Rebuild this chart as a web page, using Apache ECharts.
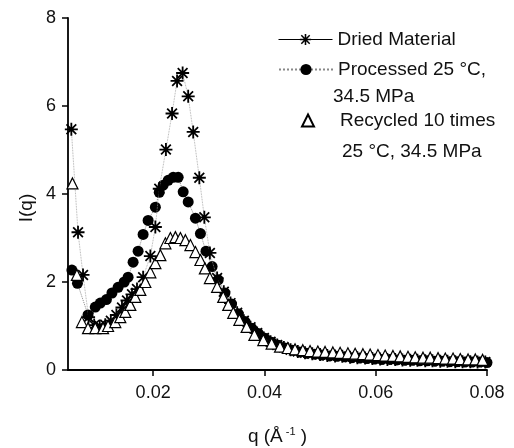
<!DOCTYPE html>
<html>
<head>
<meta charset="utf-8">
<script src="https://cdn.jsdelivr.net/npm/echarts@6/dist/echarts.min.js"></script>
<style>
  html, body { margin: 0; padding: 0; background: #fff; }
  #chart { width: 514px; height: 448px; }
</style>
</head>
<body>
<div id="chart"></div>
<script>
// values, q in 1/Angstrom
var qDried = [0.0053, 0.0065, 0.0074, 0.0084, 0.0094, 0.0104, 0.0114, 0.0124, 0.0134, 0.0144, 0.0153, 0.0162, 0.0171, 0.0182, 0.0195, 0.0204,
    0.0211, 0.0223, 0.0234, 0.0243, 0.0253, 0.0263, 0.0272, 0.0283, 0.0292, 0.0302, 0.0315, 0.0327, 0.0339, 0.0351, 0.0363, 0.0375,
    0.0387, 0.0399, 0.0411, 0.0423, 0.0435, 0.0447, 0.0460, 0.0473, 0.0486, 0.0500, 0.0513, 0.0527, 0.0540, 0.0554, 0.0567, 0.0581,
    0.0594, 0.0608, 0.0621, 0.0635, 0.0648, 0.0662, 0.0675, 0.0689, 0.0702, 0.0716, 0.0729, 0.0743, 0.0756, 0.0770, 0.0783, 0.0797];
var iDried = [5.47, 3.13, 2.16, 1.20, 1.02, 1.00, 1.03, 1.12, 1.25, 1.42, 1.58, 1.72, 1.84, 2.11, 2.59, 3.25,
    4.12, 5.01, 5.83, 6.57, 6.75, 6.22, 5.41, 4.37, 3.47, 2.66, 2.09, 1.78, 1.52, 1.30, 1.12, 0.97,
    0.84, 0.73, 0.64, 0.57, 0.51, 0.46, 0.42, 0.39, 0.37, 0.35, 0.33, 0.32, 0.31, 0.29, 0.28, 0.27,
    0.26, 0.25, 0.24, 0.24, 0.23, 0.22, 0.22, 0.21, 0.21, 0.20, 0.20, 0.19, 0.19, 0.19, 0.18, 0.18];

var qProc = [0.0054, 0.0064, 0.0083, 0.0096, 0.0105, 0.0116, 0.0126, 0.0137, 0.0148, 0.0155, 0.0164, 0.0173, 0.0182, 0.0191, 0.0204, 0.0211,
    0.0218, 0.0227, 0.0236, 0.0245, 0.0254, 0.0263, 0.0276, 0.0285, 0.0295, 0.0306, 0.0317, 0.0329, 0.0341, 0.0353, 0.0365, 0.0377,
    0.0389, 0.0401, 0.0413, 0.0425, 0.0437, 0.0450, 0.0463, 0.0476, 0.0490, 0.0503, 0.0517, 0.0530, 0.0544, 0.0557, 0.0571, 0.0584,
    0.0598, 0.0611, 0.0625, 0.0638, 0.0652, 0.0665, 0.0679, 0.0692, 0.0706, 0.0719, 0.0733, 0.0746, 0.0760, 0.0773, 0.0787, 0.0800];
var iProc = [2.27, 1.97, 1.25, 1.43, 1.52, 1.60, 1.75, 1.88, 2.00, 2.11, 2.45, 2.70, 3.08, 3.40, 3.70, 4.04,
    4.20, 4.31, 4.38, 4.38, 4.05, 3.82, 3.45, 3.10, 2.70, 2.35, 2.05, 1.75, 1.50, 1.28, 1.10, 0.95,
    0.83, 0.72, 0.63, 0.56, 0.50, 0.45, 0.41, 0.38, 0.36, 0.34, 0.32, 0.31, 0.30, 0.28, 0.27, 0.26,
    0.25, 0.24, 0.24, 0.23, 0.22, 0.22, 0.21, 0.21, 0.20, 0.20, 0.19, 0.19, 0.18, 0.18, 0.18, 0.17];

var qRecy = [0.0055, 0.0063, 0.0072, 0.0083, 0.0096, 0.0110, 0.0119, 0.0132, 0.0141, 0.0150, 0.0159, 0.0168, 0.0177, 0.0186, 0.0195, 0.0204,
    0.0213, 0.0222, 0.0231, 0.0240, 0.0249, 0.0258, 0.0267, 0.0276, 0.0285, 0.0293, 0.0302, 0.0315, 0.0326, 0.0335, 0.0344, 0.0355,
    0.0368, 0.0382, 0.0398, 0.0413, 0.0428, 0.0442, 0.0455, 0.0469, 0.0482, 0.0496, 0.0509, 0.0523, 0.0536, 0.0550, 0.0563, 0.0577,
    0.0590, 0.0604, 0.0617, 0.0631, 0.0644, 0.0658, 0.0671, 0.0685, 0.0698, 0.0712, 0.0725, 0.0739, 0.0752, 0.0766, 0.0779, 0.0792];
var iRecy = [4.24, 2.16, 1.09, 0.95, 0.95, 0.95, 1.00, 1.09, 1.20, 1.32, 1.48, 1.66, 1.82, 2.00, 2.22, 2.43,
    2.61, 2.88, 3.00, 3.02, 3.00, 2.95, 2.84, 2.68, 2.50, 2.31, 2.09, 1.89, 1.66, 1.48, 1.30, 1.14,
    0.98, 0.80, 0.68, 0.60, 0.53, 0.50, 0.47, 0.45, 0.43, 0.42, 0.41, 0.40, 0.39, 0.38, 0.37, 0.36,
    0.35, 0.34, 0.33, 0.32, 0.31, 0.30, 0.29, 0.28, 0.28, 0.27, 0.26, 0.26, 0.25, 0.24, 0.24, 0.23];

var qTicks = [0.02, 0.04, 0.06, 0.08];

var seriesNames = ['Dried Material', 'Processed 25 °C,', 'Recycled 10 times'];

function pairs(xs, ys) {
    var out = [];
    for (var i = 0; i < xs.length; i++) {
        out.push([xs[i], ys[i]]);
    }
    return out;
}

// 8-ray asterisk with a solid middle
var starPath = 'path://M0 8.6L20 8.6L20 11.4L0 11.4Z M8.6 0L11.4 0L11.4 20L8.6 20Z ' +
    'M1.55 3.45L3.45 1.55L18.45 16.55L16.55 18.45Z M16.55 1.55L18.45 3.45L3.45 18.45L1.55 16.55Z M6.5 6.5L13.5 6.5L13.5 13.5L6.5 13.5Z';

var font = 'Liberation Sans, Arial, sans-serif';
var fontSize = 19;

var legendBase = {
    orient: 'vertical',
    left: 278,
    padding: 0,
    itemWidth: 54,
    itemHeight: 14,
    selectedMode: false,
    textStyle: { color: '#111', fontSize: fontSize, fontFamily: font }
};

var chart = echarts.init(document.getElementById('chart'));
chart.setOption({
    backgroundColor: '#fff',
    animation: false,
    grid: { left: 68, right: 27, top: 18, bottom: 78, outerBoundsMode: 'none' },
    legend: [
        Object.assign({}, legendBase, {
            top: 30, data: [seriesNames[0]],
            lineStyle: { color: '#000', width: 1, type: 'solid' }
        }),
        Object.assign({}, legendBase, {
            top: 60, data: [seriesNames[1]]
        }),
        Object.assign({}, legendBase, {
            top: 111, left: 301, itemWidth: 12, itemHeight: 12, data: [seriesNames[2]],
            textStyle: { color: '#111', fontSize: fontSize, fontFamily: font, padding: [0, 0, 0, 21] }
        })
    ],
    graphic: [
        { type: 'text', left: 333, top: 87, style: { text: '34.5 MPa', fontSize: fontSize, fontFamily: font, fill: '#111' } },
        { type: 'text', left: 342, top: 142, style: { text: '25 °C, 34.5 MPa', fontSize: fontSize, fontFamily: font, fill: '#111' } },
        {
            type: 'text', x: 27, y: 208, rotation: Math.PI / 2,
            style: { text: 'I(q)', fontSize: fontSize, fontFamily: font, fill: '#111', align: 'center', verticalAlign: 'middle' }
        }
    ],
    xAxis: {
        type: 'value',
        min: 0.0047,
        max: 0.08,
        name: 'q (Å{sup|-1} )',
        nameLocation: 'middle',
        nameGap: 56,
        nameTextStyle: {
            fontSize: fontSize, fontFamily: font, color: '#111',
            rich: { sup: { fontSize: 11, fontFamily: font, color: '#111', verticalAlign: 'top', padding: [0, 0, 10, 3] } }
        },
        axisLine: { lineStyle: { color: '#000', width: 1.8 } },
        axisTick: { customValues: qTicks, length: 6, inside: false, lineStyle: { color: '#000', width: 1.5 } },
        axisLabel: {
            customValues: qTicks,
            margin: 14,
            fontSize: 18, fontFamily: font, color: '#111',
            formatter: function (v) { return v.toFixed(2); }
        },
        splitLine: { show: false }
    },
    yAxis: {
        type: 'value',
        min: 0,
        max: 8,
        interval: 2,
        axisLine: { show: true, lineStyle: { color: '#000', width: 1.8 } },
        axisTick: { show: true, length: 6, lineStyle: { color: '#000', width: 1.5 } },
        axisLabel: { margin: 12, fontSize: 18, fontFamily: font, color: '#111' },
        splitLine: { show: false }
    },
    series: [
        {
            name: seriesNames[1],
            type: 'line',
            data: pairs(qProc, iProc),
            symbol: 'circle',
            symbolSize: 11,
            itemStyle: { color: '#000' },
            lineStyle: { color: '#888', width: 1, type: 'dotted' },
            z: 2
        },
        {
            name: seriesNames[0],
            type: 'line',
            data: pairs(qDried, iDried),
            symbol: starPath,
            symbolSize: 13,
            itemStyle: { color: '#000', borderWidth: 0 },
            lineStyle: { color: '#999', width: 0.8, type: 'dotted' },
            z: 3
        },
        {
            name: seriesNames[2],
            type: 'scatter',
            data: pairs(qRecy, iRecy),
            symbol: 'triangle',
            symbolSize: 11,
            itemStyle: { color: '#fff', borderColor: '#000', borderWidth: 1.2, opacity: 1 },
            z: 4
        }
    ]
});
</script>
</body>
</html>
